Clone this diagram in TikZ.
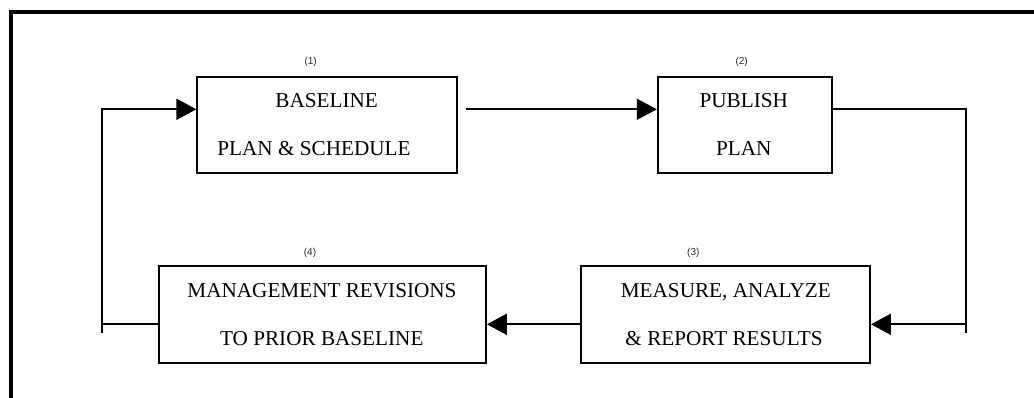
\documentclass[tikz,border=0pt]{standalone}
\usepackage{fontspec}
\setmainfont{Liberation Serif}
\newfontfamily\numfont{Liberation Sans}
\usetikzlibrary{arrows.meta}
\begin{document}
\begin{tikzpicture}[x=1pt,y=-1pt,
  boxstyle/.style={draw, line width=1.8pt, inner sep=0pt},
  txt/.style={font=\fontsize{21.2}{25}\selectfont, inner sep=0pt, anchor=base},
  num/.style={font=\numfont\fontsize{10}{12}\selectfont, inner sep=0pt, text=black!85},
  conn/.style={line width=1.8pt},
  arr/.style={line width=1.8pt, -{Triangle[length=20pt,width=21pt]}}
]
\useasboundingbox (0,0) rectangle (1034,398);
% frame
\draw[line width=4pt] (11,398) -- (11,12) -- (1034,12);
% boxes
\node[boxstyle, minimum width=259.4pt, minimum height=96pt] (b1) at (327,124.7) {};
\node[boxstyle, minimum width=174pt, minimum height=96pt] (b2) at (744.7,124.7) {};
\node[boxstyle, minimum width=288.7pt, minimum height=96.7pt] (b3) at (725.7,314.3) {};
\node[boxstyle, minimum width=327pt, minimum height=96.7pt] (b4) at (322.5,314.3) {};
% texts
\node[txt] (t1a) at (326.7,107.3) {BASELINE};
\node[txt] (t1b) at (314,156) {PLAN \& SCHEDULE};
\node[txt] (t2a) at (743.8,107.3) {PUBLISH};
\node[txt] (t2b) at (743.7,156) {PLAN};
\node[txt] (t3a) at (725.8,297.3) {MEASURE, ANALYZE};
\node[txt] (t3b) at (724,345.7) {\& REPORT RESULTS};
\node[txt] (t4a) at (322,297.3) {MANAGEMENT REVISIONS};
\node[txt] (t4b) at (321.8,345.7) {TO PRIOR BASELINE};
% numbers
\node[num] (n1) at (310.7,62) {(1)};
\node[num] (n2) at (741.7,62) {(2)};
\node[num] (n3) at (693.3,252.7) {(3)};
\node[num] (n4) at (310,252.7) {(4)};
% connector coordinates
\coordinate (s1) at (466,109.3);
\coordinate (rtop) at (965.7,109.3);
\coordinate (rbot) at (965.7,333.3);
\coordinate (rmid) at (965.7,324.3);
\coordinate (ltop) at (101.7,109.3);
\coordinate (lbot) at (101.7,333.3);
\coordinate (lmid) at (101.7,324.3);
% connectors
\draw[arr] (s1) -- (s1 -| b2.west);
\draw[conn] (rtop -| b2.east) -- (rtop) -- (rbot);
\draw[arr] (rmid) -- (rmid -| b3.east);
\draw[arr] (rmid -| b3.west) -- (rmid -| b4.east);
\draw[conn] (lmid -| b4.west) -- (lmid);
\draw[arr] (lbot) -- (ltop) -- (ltop -| b1.west);
\end{tikzpicture}
\end{document}
